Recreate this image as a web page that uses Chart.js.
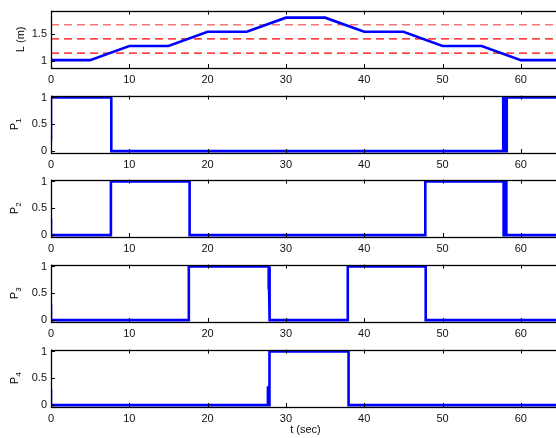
<!DOCTYPE html>
<html>
<head>
<meta charset="utf-8">
<script src="https://cdn.jsdelivr.net/npm/chart.js@4.4.1/dist/chart.umd.min.js"></script>
<style>
  html, body { margin: 0; padding: 0; background: #fff; }
  body { width: 556px; height: 438px; overflow: hidden; position: relative; }
  .panel { position: absolute; left: 0; }
</style>
</head>
<body>
<div class="panel" style="top:0px"><canvas id="c0" width="566" height="85"></canvas></div>
<div class="panel" style="top:85px"><canvas id="c1" width="566" height="85"></canvas></div>
<div class="panel" style="top:169px"><canvas id="c2" width="566" height="85"></canvas></div>
<div class="panel" style="top:254px"><canvas id="c3" width="566" height="85"></canvas></div>
<div class="panel" style="top:339px"><canvas id="c4" width="566" height="99"></canvas></div>
<script>
// Level / valve switching plot - five stacked panels sharing a time axis

// tick labels
const xTicks = [0, 10, 20, 30, 40, 50, 60];
const levelTicks = [1, 1.5];
const valveTicks = [0, 0.5, 1];

// level reference L(t)
const levelTime = [0, 5, 10, 15, 20, 25, 30, 35, 40, 45, 50, 55, 60, 65];
const levelVals = [1.02, 1.02, 1.28, 1.28, 1.54, 1.54, 1.80, 1.80, 1.54, 1.54, 1.28, 1.28, 1.02, 1.02];

// switching thresholds (dashed)
const thresholds = [1.67, 1.41, 1.15];

// valve signals
const p1Time = [0, 0, 7.7, 7.7, 57.75, 57.75, 57.95, 57.95, 58.2, 58.2, 65];
const p1Vals = [0.2, 1, 1, 0, 0, 1, 1, 0, 0, 1, 1];

const p2Time = [0, 0, 7.65, 7.65, 17.7, 17.7, 47.8, 47.8, 57.8, 57.8, 58.0, 58.0, 58.15, 58.15, 65];
const p2Vals = [0.3, 0, 0, 1, 1, 0, 0, 1, 1, 0, 0, 1, 1, 0, 0];

const p3Time = [0, 0, 17.6, 17.6, 27.8, 27.8, 27.85, 27.85, 27.95, 27.95, 37.9, 37.9, 47.85, 47.85, 65];
const p3Vals = [0.3, 0, 0, 1, 1, 0.6, 0.6, 1, 1, 0, 0, 1, 1, 0, 0];

const p4Time = [0, 0, 27.7, 27.7, 27.75, 27.9, 27.9, 38.0, 38.0, 65];
const p4Vals = [0.3, 0, 0, 0.35, 0, 0, 1, 1, 0, 0];

const BLUE = '#0000ff';
const FONT = 'Liberation Sans, Arial, Helvetica, sans-serif';
const thresholdColors = ['#f07878', '#ff0000', '#ff0000'];

function toPoints(ts, vs) {
  return ts.map((t, i) => ({ x: t, y: vs[i] }));
}

// matlab-like box with inward ticks, plus rotated y label with subscript
const matlabAxes = {
  id: 'matlabAxes',
  afterDatasetsDraw(chart, args, opts) {
    const { ctx, chartArea: a, scales } = chart;
    const tl = 4;
    ctx.save();
    ctx.strokeStyle = '#000';
    ctx.lineWidth = 1;
    ctx.beginPath();
    scales.x.ticks.forEach(t => {
      const px = Math.round(scales.x.getPixelForValue(t.value)) + 0.5;
      ctx.moveTo(px, a.bottom); ctx.lineTo(px, a.bottom - tl);
      ctx.moveTo(px, a.top); ctx.lineTo(px, a.top + tl);
    });
    scales.y.ticks.forEach(t => {
      const py = Math.round(scales.y.getPixelForValue(t.value)) + 0.5;
      ctx.moveTo(a.left, py); ctx.lineTo(a.left + tl, py);
      ctx.moveTo(a.right, py); ctx.lineTo(a.right - tl, py);
    });
    ctx.stroke();
    ctx.lineWidth = 1.3;
    ctx.strokeRect(Math.round(a.left) + 0.5, Math.round(a.top) + 0.5,
      Math.round(a.right - a.left), Math.round(a.bottom - a.top));
    ctx.restore();
  },
  afterDraw(chart, args, opts) {
    if (!opts.text) return;
    const { ctx, chartArea: a } = chart;
    ctx.save();
    ctx.fillStyle = '#000';
    ctx.font = '11px ' + FONT;
    const mainW = ctx.measureText(opts.text).width;
    ctx.font = '8px ' + FONT;
    const subW = opts.sub ? ctx.measureText(opts.sub).width : 0;
    const total = mainW + subW;
    ctx.translate(opts.x, (a.top + a.bottom) / 2);
    ctx.rotate(-Math.PI / 2);
    ctx.textBaseline = 'middle';
    ctx.textAlign = 'left';
    ctx.font = '11px ' + FONT;
    ctx.fillText(opts.text, -total / 2, 0);
    if (opts.sub) {
      ctx.font = '8px ' + FONT;
      ctx.fillText(opts.sub, -total / 2 + mainW, 4);
    }
    ctx.restore();
  }
};

function makePanel(id, datasets, yMin, yMax, yTicks, label, isLast) {
  const canvas = document.getElementById(id);
  const xHeight = canvas.height - 8 - 60;
  return new Chart(canvas, {
    type: 'line',
    data: { datasets: datasets },
    options: {
      responsive: false,
      animation: false,
      devicePixelRatio: 1,
      layout: { padding: { top: 8, right: 6, left: 0, bottom: 0 } },
      plugins: {
        legend: { display: false },
        tooltip: { enabled: false },
        matlabAxes: label
      },
      elements: { point: { radius: 0 }, line: { tension: 0 } },
      scales: {
        x: {
          type: 'linear',
          min: 0,
          max: 65,
          afterBuildTicks: s => { s.ticks = xTicks.map(v => ({ value: v })); },
          afterFit: s => { s.height = xHeight; },
          grid: { display: false, drawTicks: false },
          border: { display: false },
          ticks: {
            color: '#111', font: { family: FONT, size: 11 }, padding: 5, maxRotation: 0,
            callback: v => String(v)
          },
          title: {
            display: !!isLast,
            text: 't (sec)',
            color: '#111',
            font: { family: FONT, size: 11 },
            padding: { top: 0, bottom: 1 }
          }
        },
        y: {
          min: yMin,
          max: yMax,
          afterBuildTicks: s => { s.ticks = yTicks.map(v => ({ value: v })); },
          afterFit: s => { s.width = 51; },
          grid: { display: false, drawTicks: false },
          border: { display: false },
          ticks: {
            color: '#111', font: { family: FONT, size: 11 }, padding: 4,
            callback: v => String(v)
          }
        }
      }
    },
    plugins: [matlabAxes]
  });
}

function signal(ts, vs) {
  return {
    data: toPoints(ts, vs),
    borderColor: BLUE,
    borderWidth: 2.6,
    fill: false
  };
}

const levelSets = [signal(levelTime, levelVals)];
thresholds.forEach((th, i) => {
  levelSets.push({
    data: toPoints([0, 65], [th, th]),
    borderColor: thresholdColors[i],
    borderWidth: 1.3,
    borderDash: [8, 5],
    fill: false
  });
});

makePanel('c0', levelSets, 0.875, 1.93, levelTicks, { text: 'L (m)', x: 21 });
makePanel('c1', [signal(p1Time, p1Vals)], -0.035, 1.035, valveTicks, { text: 'P', sub: '1', x: 15 });
makePanel('c2', [signal(p2Time, p2Vals)], -0.035, 1.035, valveTicks, { text: 'P', sub: '2', x: 15 });
makePanel('c3', [signal(p3Time, p3Vals)], -0.035, 1.035, valveTicks, { text: 'P', sub: '3', x: 15 });
makePanel('c4', [signal(p4Time, p4Vals)], -0.035, 1.035, valveTicks, { text: 'P', sub: '4', x: 15 }, true);
</script>
</body>
</html>
